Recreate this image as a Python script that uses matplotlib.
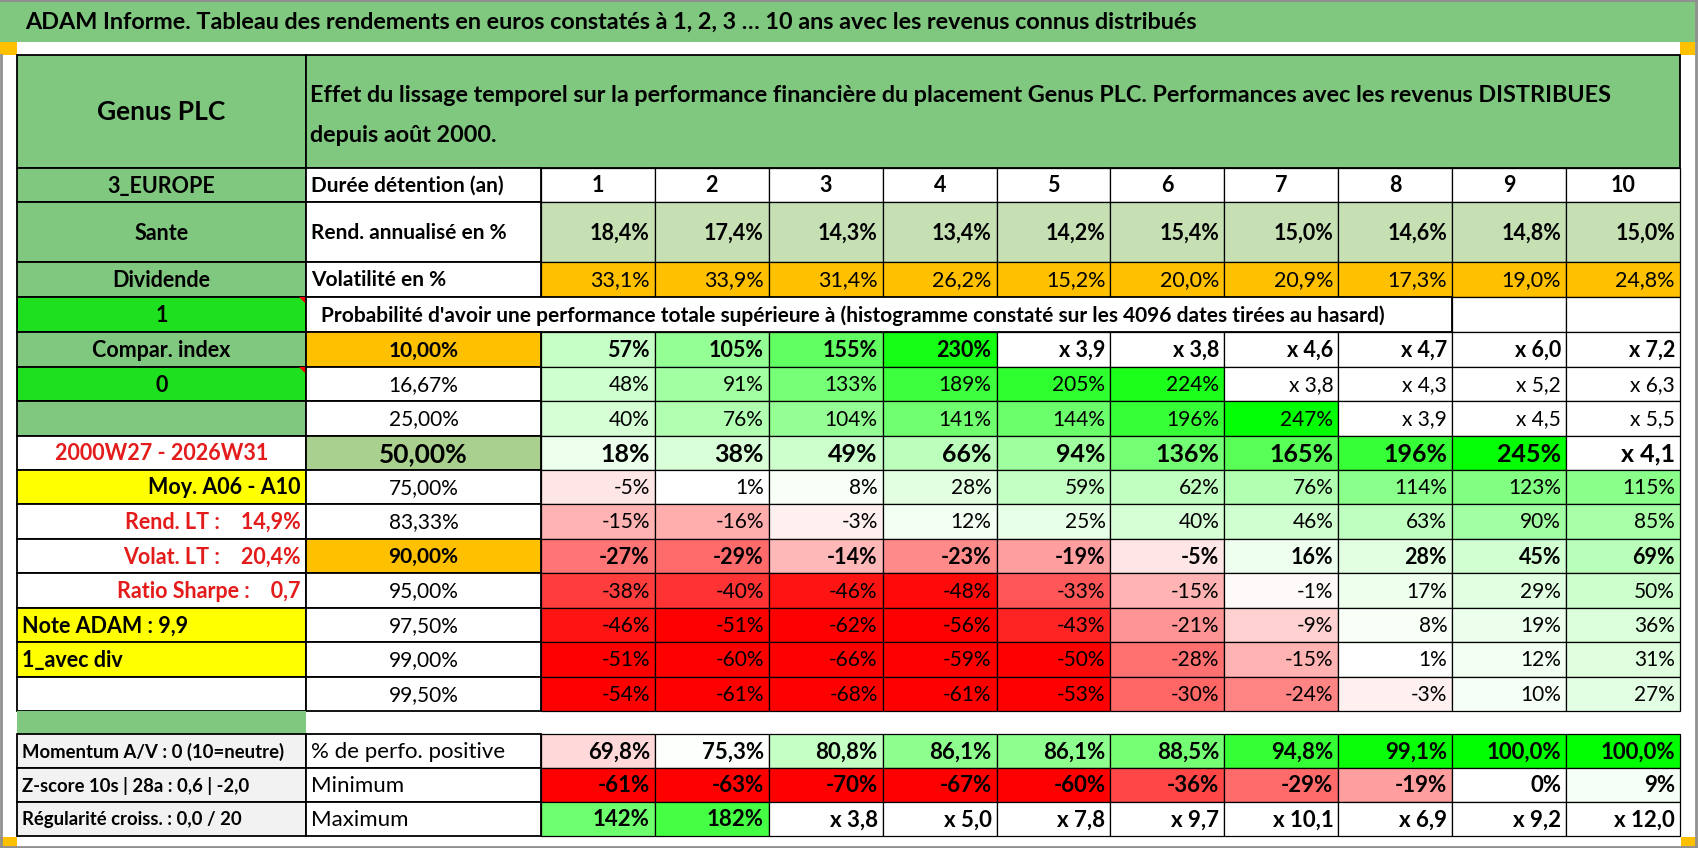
import matplotlib
matplotlib.use("Agg")
import matplotlib.pyplot as plt
from matplotlib.patches import Rectangle, Polygon

plt.rcParams["font.family"] = ["Lato", "DejaVu Sans"]

# ---------------- données ----------------
titre = "ADAM Informe. Tableau des rendements en euros constatés à 1, 2, 3 … 10 ans avec les revenus connus distribués"
sous_titre = ["Effet du lissage temporel sur la performance financière du placement Genus PLC. Performances avec les revenus DISTRIBUES",
              "depuis août 2000."]
nom_placement = "Genus PLC"
duree_label = "Durée détention (an)"
annees = list(range(1, 11))
rend_label = "Rend. annualisé en %"
rend_annualise = [18.4, 17.4, 14.3, 13.4, 14.2, 15.4, 15.0, 14.6, 14.8, 15.0]
vol_label = "Volatilité en %"
volatilite = [33.1, 33.9, 31.4, 26.2, 15.2, 20.0, 20.9, 17.3, 19.0, 24.8]
proba_label = "Probabilité d'avoir une performance totale supérieure à (histogramme constaté sur les 4096 dates tirées au hasard)"
quantiles = ["10,00%", "16,67%", "25,00%", "50,00%", "75,00%", "83,33%",
             "90,00%", "95,00%", "97,50%", "99,00%", "99,50%"]
# performance totale en % (x 3,9 = +290 %)
perf_q10 = [57, 105, 155, 230, 290, 280, 360, 370, 500, 620]
perf_q16 = [48, 91, 133, 189, 205, 224, 280, 330, 420, 530]
perf_q25 = [40, 76, 104, 141, 144, 196, 247, 290, 350, 450]
perf_q50 = [18, 38, 49, 66, 94, 136, 165, 196, 245, 310]
perf_q75 = [-5, 1, 8, 28, 59, 62, 76, 114, 123, 115]
perf_q83 = [-15, -16, -3, 12, 25, 40, 46, 63, 90, 85]
perf_q90 = [-27, -29, -14, -23, -19, -5, 16, 28, 45, 69]
perf_q95 = [-38, -40, -46, -48, -33, -15, -1, 17, 29, 50]
perf_q975 = [-46, -51, -62, -56, -43, -21, -9, 8, 19, 36]
perf_q99 = [-51, -60, -66, -59, -50, -28, -15, 1, 12, 31]
perf_q995 = [-54, -61, -68, -61, -53, -30, -24, -3, 10, 27]
perf_block = [perf_q10, perf_q16, perf_q25, perf_q50, perf_q75, perf_q83,
              perf_q90, perf_q95, perf_q975, perf_q99, perf_q995]

gauche_labels = ["3_EUROPE", "Sante", "Dividende", "1", "Compar. index", "0", "",
                 "2000W27 - 2026W31", "Moy. A06 - A10", "Rend. LT :    14,9%",
                 "Volat. LT :    20,4%", "Ratio Sharpe :    0,7", "Note ADAM : 9,9",
                 "1_avec div", ""]
bas_gauche = ["Momentum A/V : 0 (10=neutre)", "Z-score 10s | 28a : 0,6 | -2,0",
              "Régularité croiss. : 0,0 / 20"]
bas_labels = ["% de perfo. positive", "Minimum", "Maximum"]
perf_positive = [69.8, 75.3, 80.8, 86.1, 86.1, 88.5, 94.8, 99.1, 100.0, 100.0]
perf_min = [-61, -63, -70, -67, -60, -36, -29, -19, 0, 9]
perf_max = [142, 182, 280, 400, 680, 870, 910, 590, 820, 1100]

# ---------------- couleurs / mise en page ----------------
VERT = "#80C880"
VERT_VIF = "#1EE01E"
ORANGE = "#FFC000"
JAUNE = "#FFFF00"
VERT_CLAIR = "#C6E0B4"
VERT_50 = "#A9D08E"
GRIS = "#F2F2F2"
ROUGE_TXT = "#E31B1B"

x_edges = [17, 306, 541] + [541 + 113.9 * i for i in range(1, 11)]
y_head = [55, 168, 202, 262, 297]
y_block = [297, 332, 367, 401, 436, 470, 504, 539, 573, 608, 642, 677, 711]
y_bas = [734, 768, 802, 836]


def fmt_perf(v):
    if v >= 250:
        return "x " + f"{v / 100 + 1:.1f}".replace(".", ",")
    return f"{v:.0f}%"


def perf_color(v):
    if v >= 250:
        return (1, 1, 1)
    if v < 0:
        t = min(1.0, -v / 50)
        return (1, 1 - t, 1 - t)
    t = min(1.0, v / 250)
    return (1 - t, 1, 1 - t)


def positive_color(v):
    if v < 75:
        t = min(1.0, (75 - v) / 35)
        return (1, 1 - t, 1 - t)
    t = min(1.0, (v - 75) / 25)
    return (1 - t, 1, 1 - t)


fig = plt.figure(figsize=(16.98, 8.48), dpi=100)
ax = fig.add_axes([0, 0, 1, 1])
ax.set_xlim(0, 1698)
ax.set_ylim(848, 0)
ax.axis("off")


def cell(x0, x1, y0, y1, fc="white", txt="", ha="center", color="black", size=14, weight="normal", lw=1.0):
    ax.add_patch(Rectangle((x0, y0), x1 - x0, y1 - y0, facecolor=fc, edgecolor="black", linewidth=lw))
    if txt:
        if ha == "center":
            tx = (x0 + x1) / 2
        elif ha == "right":
            tx = x1 - 5
        else:
            tx = x0 + 5
        ax.text(tx, (y0 + y1) / 2 + 1, txt, ha=ha, va="center", color=color, fontsize=size, fontweight=weight)


# cadre et bandeau titre
ax.add_patch(Rectangle((0, 0), 1698, 42, facecolor=VERT, edgecolor="none"))
ax.text(25, 22, titre, ha="left", va="center", fontsize=16.8, fontweight="bold")
for (x0, y0, w, h) in [(0, 42, 17, 13), (1680, 42, 15, 13), (0, 837, 17, 11), (1681, 837, 17, 11)]:
    ax.add_patch(Rectangle((x0, y0), w, h, facecolor=ORANGE, edgecolor="none"))
ax.plot([1, 1], [55, 848], color="#909090", lw=2)
ax.plot([1696, 1696], [0, 848], color="#909090", lw=2)
ax.plot([0, 1698], [846.5, 846.5], color="#909090", lw=2)
ax.plot([0, 1698], [0.5, 0.5], color="#909090", lw=1.5)

# en-tête
cell(x_edges[0], x_edges[1], y_head[0], y_head[1], VERT, nom_placement, size=19, weight="bold", lw=1.3)
cell(x_edges[1], x_edges[-1], y_head[0], y_head[1], VERT, lw=1.3)
ax.text(310, 95, sous_titre[0], ha="left", va="center", fontsize=16.8, fontweight="bold")
ax.text(310, 136, sous_titre[1], ha="left", va="center", fontsize=16.8, fontweight="bold")

# colonne de gauche
gauche_fc = [VERT, VERT, VERT, VERT_VIF, VERT, VERT_VIF, VERT, "white", JAUNE,
             "white", "white", "white", JAUNE, JAUNE, "white"]
gauche_rows = [(y_head[1], y_head[2]), (y_head[2], y_head[3]), (y_head[3], y_head[4])] + \
    [(y_block[i], y_block[i + 1]) for i in range(12)]
for i, (lab, fc) in enumerate(zip(gauche_labels, gauche_fc)):
    y0, y1 = gauche_rows[i]
    ha, col = "center", "black"
    if lab.startswith(("Moy", "Rend", "Volat", "Ratio")):
        ha = "right"
    if lab.startswith(("Note", "1_")):
        ha = "left"
    if lab.startswith(("2000", "Rend", "Volat", "Ratio")):
        col = ROUGE_TXT
    cell(x_edges[0], x_edges[1], y0, y1, fc, lab, ha=ha, color=col, size=15.5, weight="bold", lw=1.3)
for yt in [y_block[0], y_block[2]]:
    ax.add_patch(Polygon([(299, yt), (306, yt), (306, yt + 7)], closed=True, facecolor="red", edgecolor="none"))

# durée / rendement / volatilité
lignes_haut = [(duree_label, [str(a) for a in annees], "white", "bold", "center"),
               (rend_label, [f"{v:.1f}%".replace(".", ",") for v in rend_annualise], VERT_CLAIR, "bold", "right"),
               (vol_label, [f"{v:.1f}%".replace(".", ",") for v in volatilite], ORANGE, "normal", "right")]
for r, (lab, vals, fc, w, ha) in enumerate(lignes_haut):
    y0, y1 = y_head[r + 1], y_head[r + 2]
    cell(x_edges[1], x_edges[2], y0, y1, "white", lab, ha="left", size=15, weight="bold", lw=1.3)
    for j, txt in enumerate(vals):
        cell(x_edges[j + 2], x_edges[j + 3], y0, y1, fc, txt, ha=ha, size=15.5, weight=w, lw=0.9)

# ligne probabilité
cell(x_edges[1], x_edges[10], y_block[0], y_block[1], "white", lw=1.3)
ax.text(321, (y_block[0] + y_block[1]) / 2 + 1, proba_label, ha="left", va="center", fontsize=15, fontweight="bold")
for j in (10, 11):
    cell(x_edges[j], x_edges[j + 1], y_block[0], y_block[1], "white", lw=0.9)

# bloc des quantiles
for i, (q, vals) in enumerate(zip(quantiles, perf_block)):
    y0, y1 = y_block[i + 1], y_block[i + 2]
    fc = ORANGE if q in ("10,00%", "90,00%") else (VERT_50 if q == "50,00%" else "white")
    bold = q in ("10,00%", "50,00%", "90,00%")
    qsize = 19 if q == "50,00%" else 15
    cell(x_edges[1], x_edges[2], y0, y1, fc, q, size=qsize, weight="bold" if bold else "normal", lw=1.3)
    vsize = 18 if q == "50,00%" else (15.5 if bold else 15)
    for j, v in enumerate(vals):
        cell(x_edges[j + 2], x_edges[j + 3], y0, y1, perf_color(v), fmt_perf(v), ha="right",
             size=vsize, weight="bold" if bold else "normal", lw=0.9)

# séparation
ax.add_patch(Rectangle((x_edges[0], y_block[-1]), x_edges[1] - x_edges[0], y_bas[0] - y_block[-1],
                       facecolor=VERT, edgecolor="none"))

# lignes du bas
bas_vals = [([f"{v:.1f}%".replace(".", ",") for v in perf_positive], [positive_color(v) for v in perf_positive]),
            ([fmt_perf(v) for v in perf_min], [perf_color(v) for v in perf_min]),
            ([fmt_perf(v) for v in perf_max], [perf_color(v) for v in perf_max])]
for r in range(3):
    y0, y1 = y_bas[r], y_bas[r + 1]
    cell(x_edges[0], x_edges[1], y0, y1, GRIS, bas_gauche[r], ha="left", size=13.3, weight="bold", lw=1.3)
    cell(x_edges[1], x_edges[2], y0, y1, "white", bas_labels[r], ha="left", size=16, lw=1.3)
    txts, cols = bas_vals[r]
    for j in range(10):
        cell(x_edges[j + 2], x_edges[j + 3], y0, y1, cols[j], txts[j], ha="right", size=16, weight="bold", lw=0.9)

fig.savefig("out.png", dpi=100)
